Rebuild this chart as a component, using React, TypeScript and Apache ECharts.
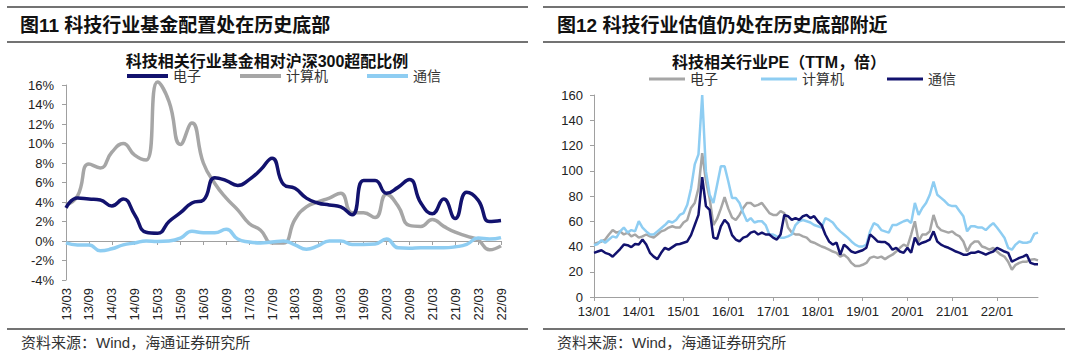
import React, { useEffect, useRef } from 'react';
import * as echarts from 'echarts';

// ---------- Left chart: fund over-weight vs CSI300 (quarterly, %) ----------
const quarterLabels = [
  '13/03', '13/06', '13/09', '13/12', '14/03', '14/06', '14/09', '14/12',
  '15/03', '15/06', '15/09', '15/12', '16/03', '16/06', '16/09', '16/12',
  '17/03', '17/06', '17/09', '17/12', '18/03', '18/06', '18/09', '18/12',
  '19/03', '19/06', '19/09', '19/12', '20/03', '20/06', '20/09', '20/12',
  '21/03', '21/06', '21/09', '21/12', '22/03', '22/06', '22/09',
];
const fundElectronics = [
  3.4, 4.4, 4.3, 4.2, 3.6, 4.3, 2.7, 0.9, 0.8, 2.0, 2.9, 3.9, 4.2, 6.5, 6.2, 5.7, 6.3, 7.3, 8.5, 5.8,
  5.4, 4.4, 3.9, 3.7, 3.5, 2.7, 6.2, 6.2, 4.9, 5.5, 6.3, 3.9, 2.8, 4.3, 2.3, 5.0, 4.2, 2.0, 2.1,
];
const fundComputer = [
  3.7, 4.6, 7.9, 7.5, 9.1, 10.0, 8.8, 8.3, 16.3, 14.3, 9.9, 12.1, 8.0, 5.9, 4.4, 3.2, 1.8, 1.1, -0.2, -0.2,
  2.2, 3.5, 4.0, 4.4, 4.9, 2.9, 2.9, 2.4, 4.8, 3.6, 1.6, 1.5, 2.2, 1.5, 0.9, 0.5, 0.1, -0.9, -0.5,
];
const fundTelecom = [
  -0.2, -0.4, -0.4, -1.0, -0.8, -0.4, -0.2, 0.0, -0.05, 0.0, 0.3, 1.0, 0.85, 0.85, 1.2, 0.2, -0.1, -0.2, -0.1, 0.0,
  -0.4, -0.85, -0.5, 0.0, 0.0, -0.35, -0.35, -0.3, 0.2, -0.7, -0.75, -0.7, -0.7, -0.7, -0.6, -0.35, 0.3, 0.2, 0.35,
];

// ---------- Right chart: PE (TTM), monthly 2013/01 - 2022/12 ----------
const peYears = ['13', '14', '15', '16', '17', '18', '19', '20', '21', '22'];
const peMonthNums = ['01', '02', '03', '04', '05', '06', '07', '08', '09', '10', '11', '12'];
const peElectronics = [
  42, 43, 44, 45.5, 49.5, 53, 51, 52, 49.5, 51, 48, 49.5,
  47, 48, 49.5, 48, 47, 49.5, 52, 53, 55, 56, 55, 55,
  59, 61, 70.5, 74.5, 86, 114, 92, 78, 57, 62, 70, 79,
  70, 63, 61, 65, 70.5, 74.5, 74.5, 72, 73, 74.5, 70.5, 66.5,
  65, 65, 68, 66.5, 55, 51, 49.5, 49.5, 48, 47, 44, 43,
  41.5, 40, 39, 37.5, 36, 35, 32, 33.5, 31, 27, 24.5, 24.5,
  25.5, 27, 31, 32, 31, 32, 30, 32, 33.5, 36, 39, 41.5,
  40, 49.5, 60, 44, 49.5, 49.5, 52, 65, 56, 53, 52, 51,
  52, 49.5, 48, 44, 36, 41.5, 44, 44, 40, 39, 37.5, 39,
  36, 33.5, 32, 28, 21.5, 25.5, 27, 28, 28, 29.5, 30, 29,
];
const peComputer = [
  41, 42, 45, 43, 45.5, 48, 47, 52, 55, 51, 53, 52,
  60, 55, 52, 49.5, 49.5, 52, 54.5, 57, 60, 59, 61, 65,
  66.5, 73, 86, 105, 113, 160, 99.5, 81, 74.5, 89, 103.5, 103.5,
  91.5, 78.5, 78.5, 74.5, 66.5, 60, 62.5, 59, 60, 60, 57, 49.5,
  49.5, 48, 47, 47, 48, 49.5, 57, 60, 61, 60, 59, 57,
  56, 55, 62.5, 61, 59, 55, 52, 49.5, 47, 44, 41.5, 40,
  40, 41.5, 52, 58.5, 57, 53, 52, 51, 57, 57, 58.5, 60,
  61, 58.5, 74.5, 65, 70.5, 74.5, 81, 91.5, 81, 78.5, 76, 73,
  72, 72, 68, 64, 52, 56, 56, 55, 55, 53, 56, 58.5,
  55, 51, 47, 39, 37.5, 41.5, 44, 43, 43, 44, 50, 51,
];
const peTelecom = [
  35, 36, 37, 35, 34, 32, 35, 38, 41.5, 41, 39.5, 42,
  41.5, 45.5, 41.5, 35, 32, 30, 35, 39, 37.5, 39.5, 41.5, 42,
  43, 44, 49, 57, 65, 95, 72, 69, 47, 46, 56, 61,
  58, 49, 45.5, 44, 47, 48, 51, 52, 49.5, 51, 49.5, 49.5,
  47, 45.5, 49.5, 65, 64, 61, 62.5, 61, 64, 65, 62.5, 64,
  60, 57, 49.5, 44, 41.5, 43, 33.5, 41.5, 39, 36, 35, 36,
  37, 39, 49.5, 47, 44, 43.5, 43.5, 41.5, 37.5, 39, 36, 35,
  39, 35, 47, 41.5, 43, 44, 45.5, 52, 44, 41.5, 40, 39,
  37.5, 36, 35, 33.5, 33.5, 35, 35, 36, 35, 33.5, 35, 36,
  39, 37.5, 36, 35, 28, 29.5, 31, 32, 33.5, 27, 26, 26,
];

const legendNames = ['电子', '计算机', '通信'];

const FONT_LATIN = '"Liberation Sans", Arial, "Noto Sans CJK SC", sans-serif';
const FONT_CJK = '"Liberation Sans", "Noto Sans CJK SC", sans-serif';
const NAVY = '#12126e';
const GREY = '#a6a6a6';
const SKY = '#8ecdf2';
const RULE = '#444444';
const AXIS = '#a0a0a0';

function buildOption() {
  const peMonths: string[] = [];
  peYears.forEach((y) => peMonthNums.forEach((m) => peMonths.push(`${y}/${m}`)));

  const rule = (x1: number, x2: number, y: number) => ({
    type: 'line',
    shape: { x1, y1: y, x2, y2: y },
    style: { stroke: RULE, lineWidth: 1.5 },
    silent: true,
  });
  const text = (x: number, y: number, t: string, font: string, align = 'left', fill = '#111') => ({
    type: 'text',
    x,
    y,
    style: {
      text: t,
      font,
      fill,
      textAlign: align,
      textVerticalAlign: 'middle',
      align,
      verticalAlign: 'middle',
    },
    silent: true,
  });

  const axisLabelBase = { fontSize: 13, color: '#222', fontFamily: FONT_LATIN };

  return {
    animation: false,
    backgroundColor: '#ffffff',
    grid: [
      { left: 66, top: 85, width: 435, height: 195 },
      { left: 594, top: 95, width: 444, height: 202 },
    ],
    legend: [
      {
        data: legendNames,
        left: 127,
        top: 69,
        padding: 0,
        icon: 'rect',
        itemWidth: 41,
        itemHeight: 4,
        itemGap: 39,
        textStyle: { fontSize: 14, color: '#333', fontFamily: FONT_CJK },
      },
      {
        data: legendNames.map((n) => n + ' '),
        formatter: (n: string) => n.trim(),
        left: 649,
        top: 72,
        padding: 0,
        icon: 'rect',
        itemWidth: 36,
        itemHeight: 3,
        itemGap: 43,
        textStyle: { fontSize: 14, color: '#333', fontFamily: FONT_CJK },
      },
    ],
    xAxis: [
      {
        gridIndex: 0,
        type: 'category',
        data: quarterLabels,
        boundaryGap: false,
        position: 'bottom',
        axisLine: { show: false, onZero: false },
        axisTick: { show: false },
        axisLabel: { ...axisLabelBase, rotate: 90, interval: 1, margin: 8 },
        splitLine: { show: false },
      },
      {
        gridIndex: 0,
        type: 'category',
        data: quarterLabels,
        boundaryGap: false,
        position: 'bottom',
        axisLine: { show: true, onZero: true, lineStyle: { color: AXIS, width: 1 } },
        axisTick: { show: true, interval: 1, length: 4, lineStyle: { color: AXIS } },
        axisLabel: { show: false },
        splitLine: { show: false },
      },
      {
        gridIndex: 1,
        type: 'category',
        data: peMonths,
        boundaryGap: false,
        axisLine: { show: true, onZero: false, lineStyle: { color: AXIS, width: 1 } },
        axisTick: { show: true, interval: 11, length: 4, lineStyle: { color: AXIS } },
        axisLabel: { ...axisLabelBase, interval: 11, margin: 8 },
        splitLine: { show: false },
      },
    ],
    yAxis: [
      {
        gridIndex: 0,
        type: 'value',
        min: -4,
        max: 16,
        interval: 2,
        axisLine: { show: true, lineStyle: { color: AXIS } },
        axisTick: { show: true, length: 4, lineStyle: { color: AXIS } },
        axisLabel: { ...axisLabelBase, formatter: '{value}%', margin: 12 },
        splitLine: { show: false },
      },
      {
        gridIndex: 1,
        type: 'value',
        min: 0,
        max: 160,
        interval: 20,
        axisLine: { show: true, lineStyle: { color: AXIS } },
        axisTick: { show: true, length: 4, lineStyle: { color: AXIS } },
        axisLabel: { ...axisLabelBase, margin: 11 },
        splitLine: { show: false },
      },
    ],
    series: [
      {
        name: '计算机', type: 'line', xAxisIndex: 0, yAxisIndex: 0, data: fundComputer,
        smooth: true, symbol: 'none', clip: false,
        lineStyle: { color: GREY, width: 3.5 }, itemStyle: { color: GREY },
      },
      {
        name: '通信', type: 'line', xAxisIndex: 0, yAxisIndex: 0, data: fundTelecom,
        smooth: true, symbol: 'none', clip: false,
        lineStyle: { color: SKY, width: 3.5 }, itemStyle: { color: SKY },
      },
      {
        name: '电子', type: 'line', xAxisIndex: 0, yAxisIndex: 0, data: fundElectronics,
        smooth: true, symbol: 'none', clip: false,
        lineStyle: { color: NAVY, width: 3.5 }, itemStyle: { color: NAVY },
      },
      {
        name: '电子 ', type: 'line', xAxisIndex: 2, yAxisIndex: 1, data: peElectronics,
        symbol: 'none', lineStyle: { color: GREY, width: 2.5 }, itemStyle: { color: GREY },
      },
      {
        name: '计算机 ', type: 'line', xAxisIndex: 2, yAxisIndex: 1, data: peComputer,
        symbol: 'none', lineStyle: { color: SKY, width: 2.5 }, itemStyle: { color: SKY },
      },
      {
        name: '通信 ', type: 'line', xAxisIndex: 2, yAxisIndex: 1, data: peTelecom,
        symbol: 'none', lineStyle: { color: NAVY, width: 2.5 }, itemStyle: { color: NAVY },
      },
    ],
    graphic: [
      rule(7, 528, 7),
      rule(7, 528, 42),
      rule(7, 528, 329),
      rule(543, 1065, 7),
      rule(543, 1065, 42),
      rule(543, 1065, 329),
      text(20, 25, '图11 科技行业基金配置处在历史底部', `bold 19px ${FONT_CJK}`),
      text(557, 25, '图12 科技行业估值仍处在历史底部附近', `bold 19px ${FONT_CJK}`),
      text(267, 61, '科技相关行业基金相对沪深300超配比例', `bold 16px ${FONT_CJK}`, 'center'),
      text(779, 62, '科技相关行业PE（TTM，倍）', `bold 16px ${FONT_CJK}`, 'center'),
      text(21, 342, '资料来源：Wind，海通证券研究所', `15px ${FONT_CJK}`, 'left', '#333'),
      text(557, 342, '资料来源：Wind，海通证券研究所', `15px ${FONT_CJK}`, 'left', '#333'),
    ],
  };
}

export default function App() {
  const ref = useRef<HTMLDivElement>(null);
  useEffect(() => {
    if (!ref.current) return;
    const chart = echarts.init(ref.current, undefined, { renderer: 'svg' });
    chart.setOption(buildOption() as any);
    return () => chart.dispose();
  }, []);
  return (
    <div
      ref={ref}
      style={{ position: 'absolute', left: 0, top: 0, width: 1080, height: 362, background: '#fff' }}
    />
  );
}
